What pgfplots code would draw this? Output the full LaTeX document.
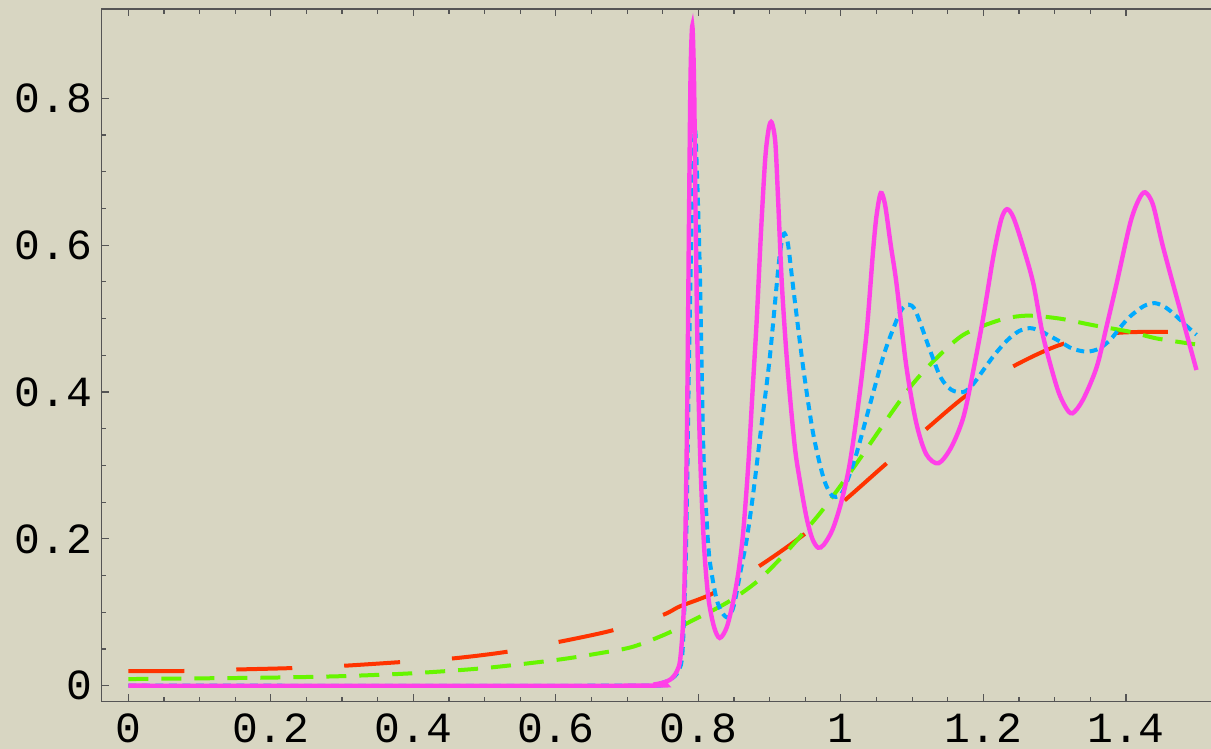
\documentclass[border=0pt]{standalone}
\usepackage{pgfplots}
\pgfplotsset{compat=1.18}
\usepackage{fontspec}
\newfontfamily\monofont{Liberation Mono}
\definecolor{bgcol}{RGB}{216,214,194}
\definecolor{axcol}{RGB}{85,85,85}
\definecolor{cred}{RGB}{255,51,0}
\definecolor{cgreen}{RGB}{102,245,0}
\definecolor{cblue}{RGB}{0,170,255}
\definecolor{cmag}{RGB}{255,64,232}
\begin{document}
\begin{tikzpicture}
\fill[bgcol] (-50.75pt,-23.65pt) rectangle (554.75pt,350.85pt);
\begin{axis}[
  at={(0,0)}, anchor=south west, scale only axis,
  width=561.2pt, height=346.35pt,
  xmin=-0.0376, xmax=1.5375, ymin=-0.0218, ymax=0.9217,
  axis line style={draw=axcol, line width=0.75pt},
  tick style={draw=axcol, line width=0.6pt},
  tick align=inside,
  major tick length=3.75pt, minor tick length=2.3pt,
  xtick={0,0.2,0.4,0.6,0.8,1,1.2,1.4},
  xticklabels={0,0.2,0.4,0.6,0.8,1,1.2,1.4},
  ytick={0,0.2,0.4,0.6,0.8},
  yticklabels={0,0.2,0.4,0.6,0.8},
  minor x tick num=3, minor y tick num=3,
  xtick pos=both, ytick pos=both,
  xticklabel pos=lower, yticklabel pos=left,
  ticklabel style={font=\monofont\fontsize{21.5}{21.5}\selectfont, inner sep=0pt},
  xticklabel style={yshift=-6pt},
  yticklabel style={xshift=-4.5pt},
  clip=true,
]
% red long dashes
\addplot[cred, line width=2pt, dash pattern=on 28pt off 26pt, smooth, tension=0.5] coordinates {
(0,0.020) (0.077,0.020) (0.15,0.022) (0.23,0.024) (0.30,0.027) (0.38,0.032)
(0.454,0.037) (0.53,0.046) (0.601,0.059) (0.678,0.075) (0.749,0.096) (0.774,0.108)
(0.821,0.126) (0.884,0.162) (0.947,0.205) (1.006,0.253) (1.062,0.301) (1.118,0.348)
(1.177,0.396) (1.240,0.434) (1.307,0.464) (1.382,0.480) (1.459,0.482)
};
% green dashes
\addplot[cgreen, line width=2pt, dash pattern=on 10pt off 6.5pt, smooth, tension=0.5] coordinates {
(0,0.009) (0.1,0.010) (0.2,0.011) (0.3,0.013) (0.4,0.017) (0.5,0.024) (0.6,0.035)
(0.66,0.044) (0.708,0.053) (0.756,0.071) (0.788,0.087) (0.84,0.113) (0.88,0.140)
(0.912,0.170) (0.94,0.200) (0.974,0.239) (1.02,0.30) (1.069,0.369) (1.1,0.41)
(1.132,0.444) (1.172,0.478) (1.223,0.498) (1.261,0.504) (1.307,0.500) (1.354,0.491)
(1.406,0.482) (1.443,0.473) (1.497,0.465)
};
% blue short dashes
\addplot[cblue, line width=2pt, dash pattern=on 4pt off 2.75pt, smooth, tension=0.5] coordinates {
(0,0) (0.70,0) (0.74,0.002) (0.76,0.008) (0.772,0.02) (0.778,0.05) (0.783,0.2)
(0.787,0.45) (0.791,0.65) (0.795,0.757) (0.798,0.70) (0.802,0.567) (0.807,0.323)
(0.812,0.22) (0.816,0.17) (0.825,0.12) (0.833,0.10) (0.842,0.093) (0.850,0.11)
(0.860,0.16) (0.868,0.20) (0.877,0.262) (0.888,0.35) (0.900,0.445) (0.912,0.567)
(0.917,0.605) (0.921,0.616) (0.926,0.60) (0.933,0.543) (0.947,0.434) (0.961,0.344)
(0.975,0.285) (0.985,0.262) (0.993,0.257) (1.003,0.265) (1.02,0.31) (1.04,0.38)
(1.06,0.45) (1.075,0.49) (1.085,0.512) (1.095,0.519) (1.105,0.51) (1.125,0.457)
(1.14,0.42) (1.155,0.403) (1.172,0.400) (1.185,0.41) (1.200,0.43) (1.215,0.45)
(1.233,0.47) (1.25,0.483) (1.265,0.487) (1.28,0.483) (1.307,0.469) (1.325,0.459)
(1.345,0.455) (1.362,0.459) (1.378,0.471) (1.392,0.488) (1.406,0.503) (1.425,0.517)
(1.441,0.521) (1.456,0.515) (1.471,0.503) (1.485,0.49) (1.499,0.478)
};
% magenta solid
\addplot[cmag, line width=2.2pt, smooth, tension=0.5] coordinates {
(0,0) (0.70,0) (0.74,0.002) (0.76,0.008) (0.77,0.02) (0.775,0.04) (0.780,0.12)
(0.784,0.35) (0.787,0.65) (0.789,0.83) (0.7915,0.899) (0.794,0.82) (0.796,0.65)
(0.799,0.45) (0.803,0.30) (0.808,0.19) (0.814,0.12) (0.822,0.08) (0.830,0.065)
(0.840,0.08) (0.850,0.12) (0.857,0.16) (0.863,0.21) (0.870,0.30) (0.876,0.40)
(0.882,0.50) (0.888,0.62) (0.894,0.72) (0.899,0.76) (0.903,0.767) (0.908,0.74)
(0.912,0.66) (0.917,0.55) (0.923,0.46) (0.929,0.389) (0.936,0.32) (0.943,0.276)
(0.952,0.228) (0.960,0.200) (0.968,0.188) (0.976,0.192) (0.988,0.212) (1.0,0.248) (1.012,0.30)
(1.024,0.38) (1.036,0.48) (1.045,0.59) (1.050,0.64) (1.056,0.671) (1.062,0.655)
(1.070,0.60) (1.078,0.548) (1.092,0.434) (1.106,0.357) (1.12,0.315) (1.137,0.303)
(1.155,0.325) (1.172,0.366) (1.186,0.43) (1.200,0.503) (1.214,0.585) (1.225,0.635)
(1.233,0.649) (1.242,0.638) (1.255,0.60) (1.270,0.548) (1.284,0.475) (1.303,0.407)
(1.315,0.38) (1.325,0.371) (1.340,0.39) (1.359,0.434) (1.373,0.49) (1.387,0.548)
(1.406,0.630) (1.418,0.662) (1.427,0.672) (1.438,0.655) (1.452,0.598) (1.476,0.512)
(1.499,0.430)
};
\end{axis}
\pgfresetboundingbox
\useasboundingbox (-50.75pt,-23.65pt) rectangle (554.75pt,350.85pt);
\end{tikzpicture}
\end{document}
